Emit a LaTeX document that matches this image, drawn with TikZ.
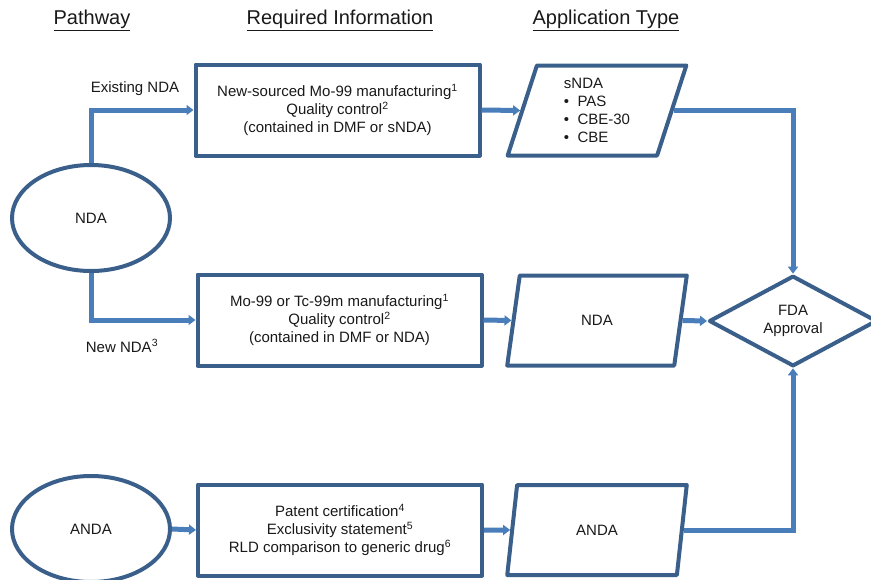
\documentclass[tikz,border=0pt]{standalone}
\usepackage{fontspec}
\setmainfont{Liberation Sans}
\usepackage{xcolor}
\usetikzlibrary{arrows.meta,shapes.geometric}

\definecolor{boxblue}{HTML}{3A5F8B}
\definecolor{flowblue}{HTML}{4A7EBB}

\tikzset{
  every node/.style={font=\fontsize{15}{18}\selectfont, text=black!90},
  heading/.style={font=\fontsize{20}{24}\selectfont},
  pathway/.style={ellipse, draw=boxblue, line width=4, inner sep=0, minimum width=158, minimum height=106},
  reqbox/.style={rectangle, draw=boxblue, line width=4, line join=round, inner sep=0, minimum width=284, minimum height=91, align=center},
  apptype/.style={trapezium, trapezium left angle=76, trapezium right angle=104, trapezium stretches=true,
    draw=boxblue, line width=4, line join=round, inner sep=0, minimum width=180, minimum height=90, align=left},
  approval/.style={diamond, draw=boxblue, line width=4, line join=round, inner sep=0, minimum width=168, minimum height=89, align=center},
  flow/.style={draw=flowblue, line width=5, -{Triangle[length=7pt,width=10pt]}}
}

\begin{document}
\begin{tikzpicture}[x=1pt,y=-1pt]
  \useasboundingbox (0,0) rectangle (871,579);

  % column headings
  \node[heading] (hpath) at (92,20) {\underline{Pathway}};
  \node[heading] (hreq) at (340,20) {\underline{Required Information}};
  \node[heading] (happ) at (606,20) {\underline{Application Type}};

  % pathways
  \node[pathway] (nda) at (91,218) {NDA};
  \node[pathway] (anda) at (91,529) {ANDA};

  % required information
  \node[reqbox] (req1) at (337.5,110) {New-sourced Mo-99 manufacturing\textsuperscript{1}\\Quality control\textsuperscript{2}\\(contained in DMF or sNDA)};
  \node[reqbox] (req2) at (339.5,320) {Mo-99 or Tc-99m manufacturing\textsuperscript{1}\\Quality control\textsuperscript{2}\\(contained in DMF or NDA)};
  \node[reqbox] (req3) at (340,530) {Patent certification\textsuperscript{4}\\Exclusivity statement\textsuperscript{5}\\RLD comparison to generic drug\textsuperscript{6}};

  % application types
  \node[apptype] (app1) at (597,110.5) {sNDA\\\textbullet\ \ PAS\\\textbullet\ \ CBE-30\\\textbullet\ \ CBE};
  \node[apptype] (app2) at (597,320.5) {NDA};
  \node[apptype] (app3) at (597,530) {ANDA};

  \node[approval] (fda) at (793,321) {FDA\\Approval};

  % labels
  \node (lexist) at (135,89) {Existing NDA};
  \node (lnew) at (122,346) {New NDA\textsuperscript{3}};

  % connectors
  \draw[flow] (nda.north) |- (req1.west);
  \draw[flow] (nda.south) |- (req2.west);
  \draw[flow] (anda.east) -- (req3.west);
  \draw[flow] (req1.east) -- (app1.west);
  \draw[flow] (req2.east) -- (app2.west);
  \draw[flow] (req3.east) -- (app3.west);
  \draw[flow] (app1.east) -| (fda.north);
  \draw[flow] (app2.east) -- (fda.west);
  \draw[flow] (app3.east) -| (fda.south);
\end{tikzpicture}
\end{document}
